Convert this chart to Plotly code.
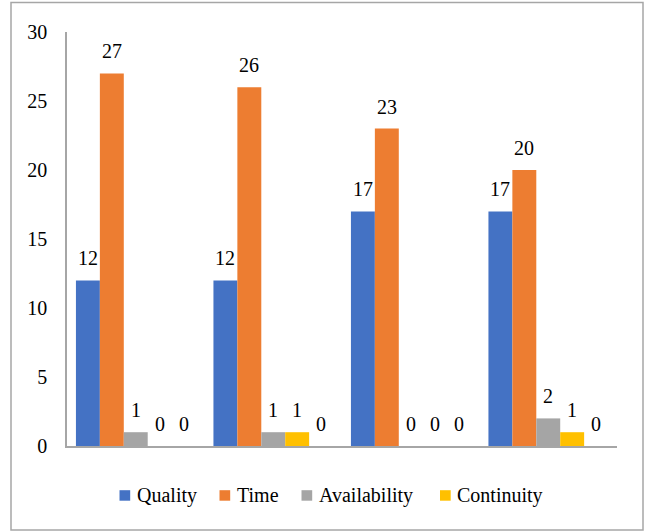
import plotly.graph_objects as go

# ---- data ----
groups = [1, 2, 3, 4]
series_names = ["Quality", "Time", "Availability", "Continuity", ""]
quality = [12, 12, 17, 17]
time_vals = [27, 26, 23, 20]
availability = [1, 1, 0, 2]
continuity = [0, 1, 0, 1]
unnamed = [0, 0, 0, 0]
y_ticks = [0, 5, 10, 15, 20, 25, 30]

series_values = [quality, time_vals, availability, continuity, unnamed]
colors = ["#4472C4", "#ED7D31", "#A5A5A5", "#FFC000", "#5B9BD5"]

# ---- geometry ----
W, H = 645, 531
L, R, T, B = 67, 617, 32, 446          # plot area in pixels
FONT = "Liberation Serif"
BARGAP = 0.13


def px_x(px):
    return (px - L) / (R - L)


def px_y(py):
    return (B - py) / (B - T)


fig = go.Figure()
n = len(series_values)
bar_w = (1 - BARGAP) / n
for i, (name, vals, col) in enumerate(zip(series_names, series_values, colors)):
    fig.add_trace(go.Bar(
        x=groups, y=vals, name=name, marker=dict(color=col, line=dict(width=0)),
        showlegend=False,
    ))
    # value labels above each bar
    for g, v in zip(groups, vals):
        fig.add_annotation(
            x=g + (i - (n - 1) / 2) * bar_w, y=v, xref="x", yref="y",
            text=str(v), showarrow=False, yanchor="bottom", yshift=9,
            font=dict(family=FONT, size=20, color="#000000"),
        )

# legend drawn as coloured squares with labels
legend_items = [("Quality", 119.5, 135), ("Time", 219.5, 235),
                ("Availability", 301.5, 316.5), ("Continuity", 440, 455)]
for (label, sq_x, tx_x), col in zip(legend_items, colors):
    fig.add_shape(type="rect", xref="paper", yref="paper",
                  x0=px_x(sq_x), x1=px_x(sq_x + 10.7),
                  y0=px_y(500.7), y1=px_y(490.2),
                  fillcolor=col, line=dict(width=0))
    fig.add_annotation(x=px_x(tx_x), y=px_y(495), xref="paper", yref="paper",
                       text=label, showarrow=False, xanchor="left", yanchor="middle",
                       font=dict(family=FONT, size=20, color="#000000"))

# outer frame
fig.add_shape(type="rect", xref="paper", yref="paper",
              x0=px_x(11), x1=px_x(643), y0=px_y(530), y1=px_y(2.5),
              line=dict(color="#A6A6A6", width=1.5), fillcolor="rgba(0,0,0,0)")

fig.update_layout(
    width=W, height=H,
    margin=dict(l=L, r=W - R, t=T, b=H - B, pad=0),
    paper_bgcolor="white", plot_bgcolor="white",
    barmode="group", bargap=BARGAP, bargroupgap=0,
    showlegend=False,
    font=dict(family=FONT, size=20, color="#000000"),
    xaxis=dict(range=[0.5, 4.5], showticklabels=False, ticks="", showgrid=False,
               zeroline=False, showline=True, linecolor="#A6A6A6", linewidth=1.5),
    yaxis=dict(range=[0, 30], tickvals=y_ticks, ticks="", showgrid=False,
               zeroline=False, showline=True, linecolor="#A6A6A6", linewidth=1.5,
               ticklabelstandoff=14,
               tickfont=dict(family=FONT, size=20, color="#000000")),
)

fig.write_html("out.html")
